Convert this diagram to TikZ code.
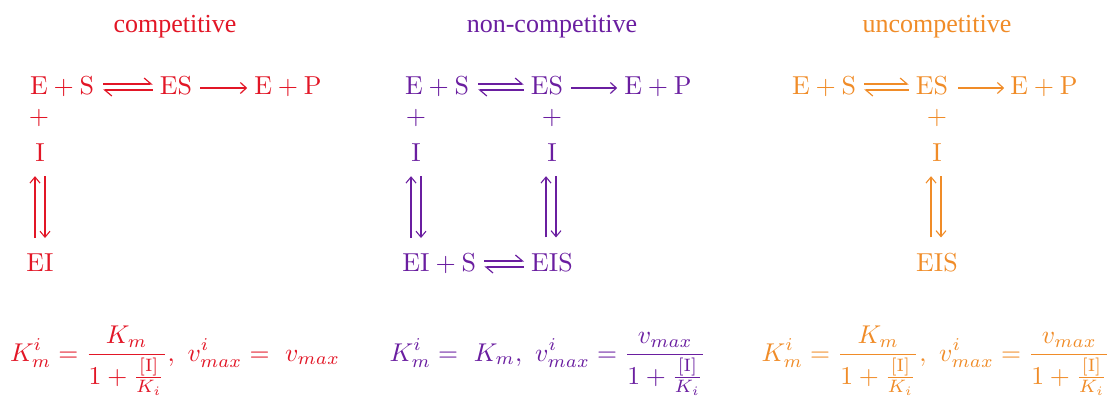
\documentclass[tikz,border=0pt]{standalone}
\usepackage{amsmath}
\usepackage{graphicx}
\usepackage{fontspec}
\newfontfamily\titlefont{Liberation Serif}
\usetikzlibrary{arrows.meta}
\definecolor{cred}{RGB}{226,22,38}
\definecolor{cpurple}{RGB}{106,30,160}
\definecolor{corange}{RGB}{240,140,40}
\newcommand{\chm}[1]{\scalebox{2.6}{$#1$}}
\newcommand{\eqn}[1]{\scalebox{2.57}{$\displaystyle #1$}}
\begin{document}
\begin{tikzpicture}[x=1pt,y=-1pt,
  sp/.style={inner sep=0pt, anchor=base},
  ttl/.style={inner sep=0pt, anchor=base, font=\titlefont\fontsize{26}{30}\selectfont},
  eq/.style={inner sep=0pt, anchor=base},
  harp/.style={line width=1.2pt, -{Straight Barb[left,length=7pt,width=12pt]}},
  fwd/.style={line width=1.2pt, -{Straight Barb[length=6pt,width=11pt]}},
  varr/.style={line width=1.1pt, -{Straight Barb[length=6pt,width=10pt]}},
]
\useasboundingbox (0,0) rectangle (1116,403);

% ---------------- competitive
\begin{scope}[color=cred]
\node[ttl] (ct) at (175,33) {competitive};
\node[sp] (cA) at (62,95) {\chm{\mathrm{E}+\mathrm{S}}};
\node[sp] (cB) at (176,95) {\chm{\mathrm{ES}}};
\node[sp] (cC) at (288,95) {\chm{\mathrm{E}+\mathrm{P}}};
\node[sp,anchor=center] (cp) at (39,118) {\chm{+}};
\node[sp] (cI) at (40,162) {\chm{\mathrm{I}}};
\node[sp] (cEI) at (40,272) {\chm{\mathrm{EI}}};
\draw[harp] ([xshift=9pt,yshift=11pt]cA.base east) -- ([xshift=-7pt,yshift=11pt]cB.base west);
\draw[harp] ([xshift=-7pt,yshift=5pt]cB.base west) -- ([xshift=9pt,yshift=5pt]cA.base east);
\draw[fwd] ([xshift=8pt,yshift=7pt]cB.base east) -- ([xshift=-7pt,yshift=7pt]cC.base west);
\draw[varr] ([xshift=-5pt,yshift=16pt]cEI.north) -- ([xshift=-5pt,yshift=-14pt]cI.south);
\draw[varr] ([xshift=5pt,yshift=-14pt]cI.south) -- ([xshift=5pt,yshift=16pt]cEI.north);
\node[eq] (cf) at (175,361) {\eqn{K^i_m=\dfrac{K_m}{1+\frac{[\mathrm{I}]}{K_i}},\ v^i_{max}=\ v_{max}}};
\end{scope}

% ---------------- non-competitive
\begin{scope}[color=cpurple]
\node[ttl] (nt) at (552,33) {non-competitive};
\node[sp] (nA) at (437,95) {\chm{\mathrm{E}+\mathrm{S}}};
\node[sp] (nB) at (547,95) {\chm{\mathrm{ES}}};
\node[sp] (nC) at (658,95) {\chm{\mathrm{E}+\mathrm{P}}};
\node[sp,anchor=center] (np1) at (416,118) {\chm{+}};
\node[sp,anchor=center] (np2) at (552,118) {\chm{+}};
\node[sp] (nI1) at (416,162) {\chm{\mathrm{I}}};
\node[sp] (nI2) at (552,162) {\chm{\mathrm{I}}};
\node[sp] (nEI) at (416,272) {\chm{\mathrm{EI}}};
\node[sp,anchor=base west] (nS) at (nEI.base east) {\chm{{}+\mathrm{S}}};
\node[sp] (nEIS) at (552,272) {\chm{\mathrm{EIS}}};
\draw[harp] ([xshift=9pt,yshift=11pt]nA.base east) -- ([xshift=-7pt,yshift=11pt]nB.base west);
\draw[harp] ([xshift=-7pt,yshift=5pt]nB.base west) -- ([xshift=9pt,yshift=5pt]nA.base east);
\draw[fwd] ([xshift=8pt,yshift=7pt]nB.base east) -- ([xshift=-7pt,yshift=7pt]nC.base west);
\draw[harp] ([xshift=8pt,yshift=11pt]nS.base east) -- ([xshift=-7pt,yshift=11pt]nEIS.base west);
\draw[harp] ([xshift=-7pt,yshift=5pt]nEIS.base west) -- ([xshift=8pt,yshift=5pt]nS.base east);
\draw[varr] ([xshift=-5pt,yshift=16pt]nEI.north) -- ([xshift=-5pt,yshift=-14pt]nI1.south);
\draw[varr] ([xshift=5pt,yshift=-14pt]nI1.south) -- ([xshift=5pt,yshift=16pt]nEI.north);
\draw[varr] ([xshift=-6pt,yshift=16pt]nEIS.north) -- ([xshift=-6pt,yshift=-14pt]nI2.south);
\draw[varr] ([xshift=4pt,yshift=-14pt]nI2.south) -- ([xshift=4pt,yshift=16pt]nEIS.north);
\node[eq] (nf) at (548,361) {\eqn{K^i_m=\ K_m,\ v^i_{max}=\dfrac{v_{max}}{1+\frac{[\mathrm{I}]}{K_i}}}};
\end{scope}

% ---------------- uncompetitive
\begin{scope}[color=corange]
\node[ttl] (ut) at (937,33) {uncompetitive};
\node[sp] (uA) at (824,95) {\chm{\mathrm{E}+\mathrm{S}}};
\node[sp] (uB) at (932,95) {\chm{\mathrm{ES}}};
\node[sp] (uC) at (1044,95) {\chm{\mathrm{E}+\mathrm{P}}};
\node[sp,anchor=center] (up) at (937,118) {\chm{+}};
\node[sp] (uI) at (937,162) {\chm{\mathrm{I}}};
\node[sp] (uEIS) at (937,272) {\chm{\mathrm{EIS}}};
\draw[harp] ([xshift=8pt,yshift=11pt]uA.base east) -- ([xshift=-7pt,yshift=11pt]uB.base west);
\draw[harp] ([xshift=-7pt,yshift=5pt]uB.base west) -- ([xshift=8pt,yshift=5pt]uA.base east);
\draw[fwd] ([xshift=10pt,yshift=7pt]uB.base east) -- ([xshift=-6pt,yshift=7pt]uC.base west);
\draw[varr] ([xshift=-6pt,yshift=16pt]uEIS.north) -- ([xshift=-6pt,yshift=-14pt]uI.south);
\draw[varr] ([xshift=4pt,yshift=-14pt]uI.south) -- ([xshift=4pt,yshift=16pt]uEIS.north);
\node[eq] (uf) at (936,361) {\eqn{K^i_m=\dfrac{K_m}{1+\frac{[\mathrm{I}]}{K_i}},\ v^i_{max}=\dfrac{v_{max}}{1+\frac{[\mathrm{I}]}{K_i}}}};
\end{scope}
\end{tikzpicture}
\end{document}
